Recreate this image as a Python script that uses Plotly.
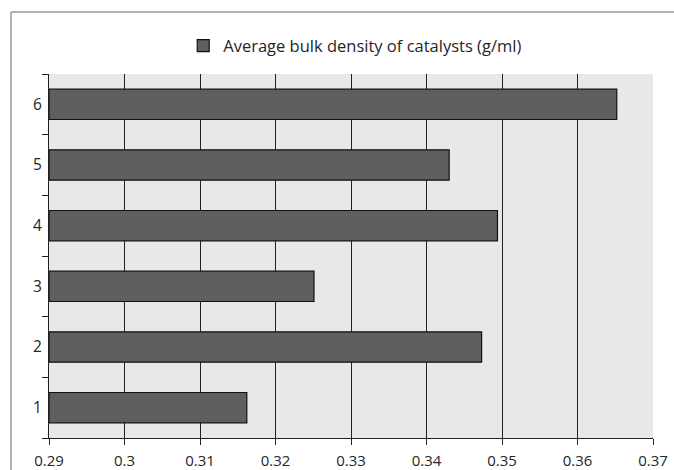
import plotly.graph_objects as go

categories = ["1", "2", "3", "4", "5", "6"]
values = [0.3162, 0.3473, 0.3251, 0.3494, 0.3430, 0.3652]
series_name = "Average bulk density of catalysts (g/ml)"
x_min = 0.29
x_ticks = [0.29, 0.30, 0.31, 0.32, 0.33, 0.34, 0.35, 0.36, 0.37]
x_tick_labels = ["0.29", "0.3", "0.31", "0.32", "0.33", "0.34", "0.35", "0.36", "0.37"]

FONT = "Open Sans, Liberation Sans, sans-serif"
TXT = "#262626"

fig = go.Figure()
fig.add_trace(go.Bar(
    y=categories, x=[v - x_min for v in values], base=x_min, orientation="h", name=series_name,
    marker=dict(color="#5f5f5f", line=dict(color="#111111", width=1.2)),
    width=0.5, showlegend=True,
))

fig.update_layout(
    width=674, height=470,
    margin=dict(l=49, r=21, t=74, b=32),
    paper_bgcolor="white",
    plot_bgcolor="#e8e8e8",
    font=dict(family=FONT, size=15, color=TXT),
    showlegend=True,
    legend=dict(orientation="h", x=0.507, xanchor="center", y=1.077, yanchor="middle",
                font=dict(size=16.5, color=TXT), bgcolor="rgba(0,0,0,0)",
                itemwidth=30),
    xaxis=dict(
        range=[0.29, 0.37], tickvals=x_ticks, ticktext=x_tick_labels,
        showgrid=True, gridcolor="#222222", gridwidth=1.2,
        ticks="outside", ticklen=6, tickcolor="#222222", tickwidth=1.2,
        showline=True, linecolor="#222222", linewidth=1.2,
        zeroline=False, ticklabelstandoff=3, automargin=False,
        tickfont=dict(size=15, color=TXT),
    ),
    yaxis=dict(
        type="category", categoryorder="array", categoryarray=categories,
        tickson="boundaries", ticks="outside", ticklen=6, tickcolor="#222222", tickwidth=1.2,
        showline=True, linecolor="#222222", linewidth=1.2,
        showgrid=False, zeroline=False, ticklabelstandoff=3, automargin=False,
        tickfont=dict(size=15.5, color=TXT),
    ),
    shapes=[
        dict(type="line", xref="paper", yref="paper", x0=-0.0629, x1=1.2, y0=1.1703, y1=1.1703,
             line=dict(color="#9a9a9a", width=1.5)),
        dict(type="line", xref="paper", yref="paper", x0=-0.0629, x1=-0.0629, y0=1.1703, y1=-0.2,
             line=dict(color="#9a9a9a", width=1.5)),
    ],
)

fig.write_html("out.html")
